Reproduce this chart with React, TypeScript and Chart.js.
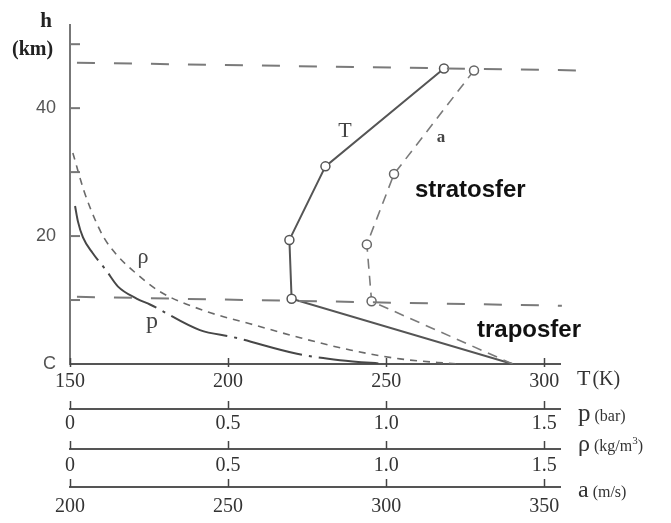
import { useEffect, useRef } from 'react';
import { Chart, registerables } from 'chart.js';

Chart.register(...registerables);

// altitude axis (km)
const altitudeTicks = [0, 10, 20, 30, 40, 50];
const altitudeLabels: Record<number, string> = { 0: 'C', 20: '20', 40: '40' };

// the four stacked bottom axes
const temperatureTicks = [150, 200, 250, 300];
const pressureTicks = [0, 0.5, 1.0, 1.5];
const densityTicks = [0, 0.5, 1.0, 1.5];
const soundTicks = [200, 250, 300, 350];

// temperature T (K) against altitude h (km)
const tempH = [0, 10.2, 19.4, 30.9, 46.2];
const tempK = [290, 220.1, 219.4, 230.8, 268.3];

// speed of sound a (m/s)
const soundH = [0, 9.8, 18.7, 29.7, 45.9];
const soundMs = [340, 295.4, 293.9, 302.5, 327.8];

// pressure p (bar)
const pressureH = [24.7, 22.3, 19.8, 17.4, 14.6, 12.1, 10.2, 9.3, 5.3, 4.2, 1.6, 0.6, 0];
const pressureBar = [0.016, 0.025, 0.041, 0.071, 0.115, 0.152, 0.212, 0.253, 0.411, 0.516, 0.718, 0.854, 1.0];

// density ρ (kg/m3)
const densityH = [33.0, 27.1, 22.6, 19.7, 17.0, 14.3, 11.3, 8.2, 6.3, 4.1, 2.2, 0.8, 0];
const densityKg = [0.009, 0.044, 0.079, 0.108, 0.149, 0.206, 0.285, 0.433, 0.569, 0.728, 0.886, 1.044, 1.224];

// layer boundaries (stratopause and tropopause), drawn as dashed guides
const stratopauseT = [152.2, 310.4];
const stratopauseH = [47.1, 45.9];
const tropopauseT = [152.2, 305.6];
const tropopauseH = [10.5, 9.1];

const SERIF = '"Liberation Serif", "Times New Roman", serif';
const SANS = '"Liberation Sans", Arial, sans-serif';

const pts = (xs: number[], ys: number[]) => xs.map((x, i) => ({ x, y: ys[i] }));

const fixedTicks = (values: number[]) => (scale: any) => {
  scale.ticks = values.map((v) => ({ value: v }));
};

function bottomAxis(
  min: number,
  max: number,
  values: number[],
  weight: number,
  height: number,
  padding: number,
  fmt: (v: number) => string
) {
  return {
    type: 'linear',
    position: 'bottom',
    min,
    max,
    weight,
    afterBuildTicks: fixedTicks(values),
    afterFit: (s: any) => {
      s.height = height;
    },
    grid: { display: false, drawTicks: false },
    border: { display: true, color: '#555', width: 2 },
    ticks: {
      padding,
      autoSkip: false,
      maxRotation: 0,
      color: '#333',
      font: { family: SERIF, size: 20, lineHeight: 1.2 },
      callback: (v: number) => fmt(v),
    },
  };
}

const decorations = {
  id: 'decorations',
  afterDraw(chart: any) {
    const { ctx, scales } = chart;
    ctx.save();

    // inward ticks on the altitude axis
    const ys = scales.y;
    ctx.strokeStyle = '#777';
    ctx.lineWidth = 2;
    altitudeTicks.forEach((v) => {
      if (v === 0) return;
      const py = ys.getPixelForValue(v);
      ctx.beginPath();
      ctx.moveTo(ys.right, py);
      ctx.lineTo(ys.right + 10, py);
      ctx.stroke();
    });

    // small upward tick marks on the bottom axes
    const marks: [string, number[], number, number][] = [
      ['x', temperatureTicks, -6, 3],
      ['p', pressureTicks, -8, 0],
      ['rho', densityTicks, -8, 0],
      ['a', soundTicks, -8, 0],
    ];
    ctx.strokeStyle = '#444';
    ctx.lineWidth = 1.5;
    marks.forEach(([id, values, up, down]) => {
      const s = scales[id];
      values.forEach((v) => {
        const px = Math.round(s.getPixelForValue(v)) + 0.5;
        ctx.beginPath();
        ctx.moveTo(px, s.top + up);
        ctx.lineTo(px, s.top + down);
        ctx.stroke();
      });
    });

    const text = (
      str: string,
      x: number,
      y: number,
      font: string,
      color: string,
      align: CanvasTextAlign = 'left'
    ) => {
      ctx.font = font;
      ctx.fillStyle = color;
      ctx.textAlign = align;
      ctx.textBaseline = 'alphabetic';
      ctx.fillText(str, x, y);
      return ctx.measureText(str).width;
    };

    // altitude axis title
    text('h', 46, 27, `bold 21px ${SERIF}`, '#222', 'center');
    text('(km)', 12, 55, `bold 20px ${SERIF}`, '#222');

    // bottom axis titles
    let w = text('T', 577, 385, `22px ${SERIF}`, '#333');
    text('(K)', 577 + w + 2, 385, `20px ${SERIF}`, '#333');

    w = text('p', 578, 421, `25px ${SERIF}`, '#333');
    text('(bar)', 578 + w + 4, 421, `16px ${SERIF}`, '#333');

    w = text('ρ', 578, 451, `24px ${SERIF}`, '#333');
    const w2 = text('(kg/m', 578 + w + 4, 451, `16px ${SERIF}`, '#333');
    const w3 = text('3', 578 + w + 4 + w2, 444, `11px ${SERIF}`, '#333');
    text(')', 578 + w + 4 + w2 + w3, 451, `16px ${SERIF}`, '#333');

    w = text('a', 578, 497, `24px ${SERIF}`, '#333');
    text('(m/s)', 578 + w + 4, 497, `16px ${SERIF}`, '#333');

    // curve labels
    text('T', 345, 137, `22px ${SERIF}`, '#444', 'center');
    text('a', 441, 142, `bold 17px ${SERIF}`, '#444', 'center');
    text('ρ', 143, 263, `22px ${SERIF}`, '#444', 'center');
    text('p', 152, 328, `24px ${SERIF}`, '#444', 'center');

    // layer names
    text('stratosfer', 415, 197, `bold 24px ${SANS}`, '#111');
    text('traposfer', 477, 337, `bold 24px ${SANS}`, '#111');

    ctx.restore();
  },
};

export default function App() {
  const ref = useRef<HTMLCanvasElement>(null);

  useEffect(() => {
    const canvas = ref.current;
    if (!canvas) return;

    const guide = {
      borderColor: '#7a7a7a',
      borderWidth: 2,
      borderDash: [18, 19],
      pointRadius: 0,
      fill: false,
      clip: false as const,
      xAxisID: 'x',
      yAxisID: 'y',
    };

    const chart = new Chart(canvas, {
      type: 'line',
      data: {
        datasets: [
          { ...guide, label: 'stratopause', data: pts(stratopauseT, stratopauseH) },
          { ...guide, label: 'tropopause', data: pts(tropopauseT, tropopauseH) },
          {
            label: 'ρ',
            data: pts(densityKg, densityH),
            xAxisID: 'rho',
            yAxisID: 'y',
            borderColor: '#6a6a6a',
            borderWidth: 1.6,
            borderDash: [7, 6],
            cubicInterpolationMode: 'monotone',
            pointRadius: 0,
            fill: false,
          },
          {
            label: 'p',
            data: pts(pressureBar, pressureH),
            xAxisID: 'p',
            yAxisID: 'y',
            borderColor: '#474747',
            borderWidth: 2,
            borderDash: [60, 7, 3, 7],
            cubicInterpolationMode: 'monotone',
            pointRadius: 0,
            fill: false,
          },
          {
            label: 'a',
            data: pts(soundMs, soundH),
            xAxisID: 'a',
            yAxisID: 'y',
            borderColor: '#7a7a7a',
            borderWidth: 1.6,
            borderDash: [10, 7],
            tension: 0,
            pointRadius: [0, 4.5, 4.5, 4.5, 4.5],
            pointBackgroundColor: '#fff',
            pointBorderColor: '#666',
            pointBorderWidth: 1.5,
            fill: false,
          },
          {
            label: 'T',
            data: pts(tempK, tempH),
            xAxisID: 'x',
            yAxisID: 'y',
            borderColor: '#555',
            borderWidth: 2,
            tension: 0,
            pointRadius: [0, 4.5, 4.5, 4.5, 4.5],
            pointBackgroundColor: '#fff',
            pointBorderColor: '#555',
            pointBorderWidth: 1.5,
            fill: false,
          },
        ],
      },
      options: {
        responsive: false,
        animation: false,
        devicePixelRatio: 1,
        layout: { padding: { left: 0, right: 111, top: 25, bottom: 6 } },
        plugins: { legend: { display: false }, tooltip: { enabled: false } },
        scales: {
          x: bottomAxis(150, 305, temperatureTicks, 0, 45, 6, (v) => String(v)),
          p: bottomAxis(0, 1.55, pressureTicks, 1, 40, 3, (v) => (v === 0 ? '0' : v.toFixed(1))),
          rho: bottomAxis(0, 1.55, densityTicks, 2, 38, 5, (v) => (v === 0 ? '0' : v.toFixed(1))),
          a: bottomAxis(200, 355, soundTicks, 3, 30, 8, (v) => String(v)),
          y: {
            type: 'linear',
            position: 'left',
            min: 0,
            max: 53,
            afterBuildTicks: fixedTicks(altitudeTicks),
            afterFit: (s: any) => {
              s.width = 70;
            },
            grid: { display: false, drawTicks: false },
            border: { display: true, color: '#777', width: 2 },
            ticks: {
              padding: 14,
              autoSkip: false,
              color: '#555',
              font: { family: SANS, size: 18 },
              callback: (v: number) => altitudeLabels[v] ?? '',
            },
          },
        } as any,
      },
      plugins: [decorations],
    });

    return () => chart.destroy();
  }, []);

  return (
    <div style={{ position: 'fixed', left: 0, top: 0, width: 671, height: 523, background: '#fff' }}>
      <canvas ref={ref} width={671} height={523} style={{ display: 'block' }} />
    </div>
  );
}
